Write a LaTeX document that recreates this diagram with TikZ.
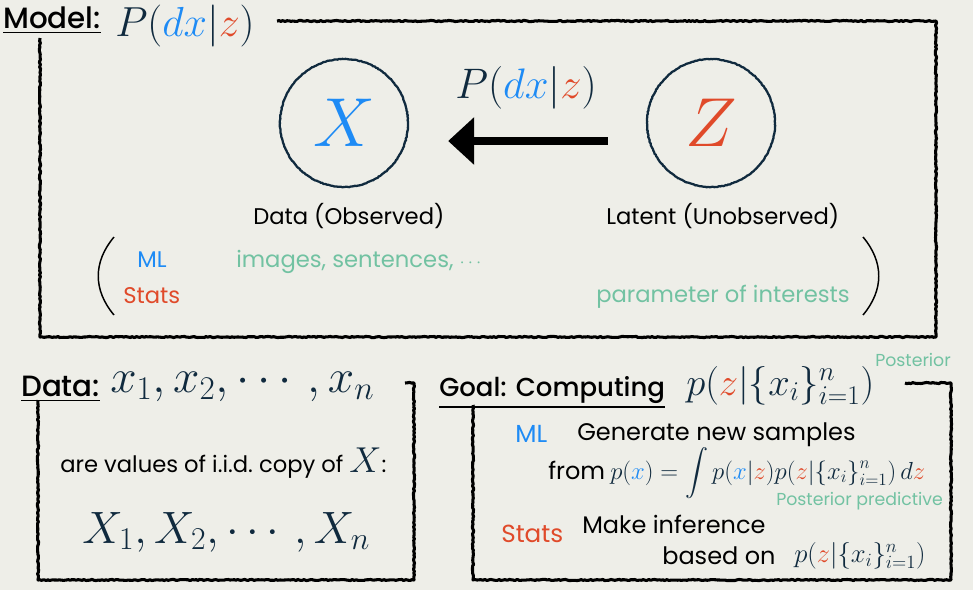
\RequirePackage{fix-cm}
\documentclass[tikz,border=0pt]{standalone}
\usepackage{amsmath}
\usepackage[no-math]{fontspec}
\newfontfamily\uifont{Poppins}
\newfontfamily\headfont{Poppins Medium}
\usetikzlibrary{arrows.meta,calc,decorations.pathmorphing}
\definecolor{bgcol}{RGB}{238,238,232}
\definecolor{mlblue}{RGB}{30,139,245}
\definecolor{statred}{RGB}{224,74,42}
\definecolor{notegreen}{RGB}{114,194,162}
\definecolor{inkblue}{RGB}{16,42,62}
\tikzset{
  roughline/.style={line width=2.3pt, draw=black, line join=round,
    decorate, decoration={random steps, segment length=1.5pt, amplitude=0.45pt}},
  varnode/.style={circle, draw=inkblue, line width=1.7pt, minimum size=96pt,
    inner sep=0pt, font=\fontsize{52}{52}\selectfont,
    decorate, decoration={random steps, segment length=1.2pt, amplitude=0.25pt}},
  uitext/.style={inner sep=0pt, anchor=base west, font=\uifont\fontsize{17}{20}\selectfont},
  headtext/.style={uitext, font=\headfont\fontsize{22}{26}\selectfont},
  notetext/.style={uitext, text=notegreen},
  mathtext/.style={inner sep=0pt, anchor=base west, text=inkblue},
}
\newcommand{\blu}[1]{\textcolor{mlblue}{#1}}
\newcommand{\rd}[1]{\textcolor{statred}{#1}}
\begin{document}
\begin{tikzpicture}[x=0.75pt, y=-0.75pt]
\fill[bgcol] (0,0) rectangle (973,590);
\useasboundingbox (0,0) rectangle (973,590);

%% Model block
\node[headtext] (modelhd) at (3,28) {\underline{Model:}};
\node[mathtext, font=\fontsize{31.5}{34}\selectfont] (modelpx) at (115,36)
  {$P(\blu{dx}|\rd{z})$};
\draw[roughline] (277,21) -- (936,21) -- (936,337) -- (40,337) -- (40,38);

% the two variables
\node[varnode, text=mlblue] (nx) at (344,123) {$X$};
\node[varnode, text=statred] (nz) at (711,123) {$Z$};
\draw[line width=6pt, -{Triangle[length=19.5pt, width=34.5pt]}]
  ($(nz.west)+(-38,18)$) -- ($(nx.east)+(39,18)$);
\node[mathtext, font=\fontsize{32}{36}\selectfont] (arrowlbl) at (455,98)
  {$P(\blu{dx}|\rd{z})$};
\node[uitext] (datalbl) at (253,224) {Data (Observed)};
\node[uitext] (latentlbl) at (606,224) {Latent (Unobserved)};

% ML / Stats readings
\draw[line width=1.1pt] (114,237) .. controls (93,262) and (93,290) .. (114,315);
\draw[line width=1.1pt] (863,237) .. controls (884,262) and (884,290) .. (863,315);
\node[uitext, text=mlblue] (mltop) at (137,267) {ML};
\node[uitext, text=statred] (statstop) at (123,303) {Stats};
\node[notetext] (mlx) at (236,267)
  {images, sentences, {\fontsize{14}{14}\selectfont$\cdots$}};
\node[notetext] (statsz) at (596,302) {parameter of interests};

%% Data block
\node[headtext] (datahd) at (21,396) {\underline{Data:}};
\node[mathtext, font=\fontsize{35.5}{40}\selectfont] (xs) at (110,392)
  {$x_1, x_2, \cdots, x_n$};
\draw[roughline] (405,383) -- (414,383) -- (414,580) -- (38,580) -- (38,400);
\node[uitext, font=\uifont\fontsize{17}{19}\selectfont] (iid) at (60,472)
  {are values of i.i.d.\ copy of \textcolor{inkblue}{\fontsize{27}{27}\selectfont$X$}:};
\node[mathtext, font=\fontsize{34}{40}\selectfont] (Xs) at (82,543)
  {$X_1, X_2, \cdots, X_n$};

%% Goal block
\node[headtext, font=\headfont\fontsize{19.5}{22}\selectfont] (goalhd) at (439,396)
  {\underline{Goal: Computing}};
\node[mathtext, font=\fontsize{29}{32}\selectfont] (post) at (686,395)
  {$p(\rd{z}|\{x_i\}_{i=1}^n)$};
\node[notetext, font=\uifont\fontsize{13}{15}\selectfont] (postlbl) at (875,366) {Posterior};
\draw[roughline] (905,383) -- (951,383) -- (951,580) -- (473,580) -- (473,405);

\node[uitext, font=\uifont\fontsize{18.5}{21}\selectfont, text=mlblue] (mlgoal) at (515,442) {ML};
\node[uitext, font=\uifont\fontsize{18}{21}\selectfont] (gen) at (577,440) {Generate new samples};
\node[uitext, font=\uifont\fontsize{18}{21}\selectfont] (from) at (548,479) {from};
\node[mathtext, font=\fontsize{18.5}{21}\selectfont] (pred) at (610,479)
  {$p(\blu{x}) = \displaystyle\int p(\blu{x}|\rd{z})p(\rd{z}|\{x_i\}_{i=1}^n)\,d\rd{z}$};
\node[notetext, font=\uifont\fontsize{13}{15}\selectfont] (predlbl) at (776,505) {Posterior predictive};

\node[uitext, font=\uifont\fontsize{18.5}{21}\selectfont, text=statred] (statsgoal) at (501,542) {Stats};
\node[uitext, font=\uifont\fontsize{18}{21}\selectfont] (infer) at (582,533) {Make inference};
\node[uitext, font=\uifont\fontsize{18}{21}\selectfont] (based) at (662,564) {based on};
\node[mathtext, font=\fontsize{20}{23}\selectfont] (post2) at (794,562)
  {$p(\rd{z}|\{x_i\}_{i=1}^n)$};
\end{tikzpicture}
\end{document}
